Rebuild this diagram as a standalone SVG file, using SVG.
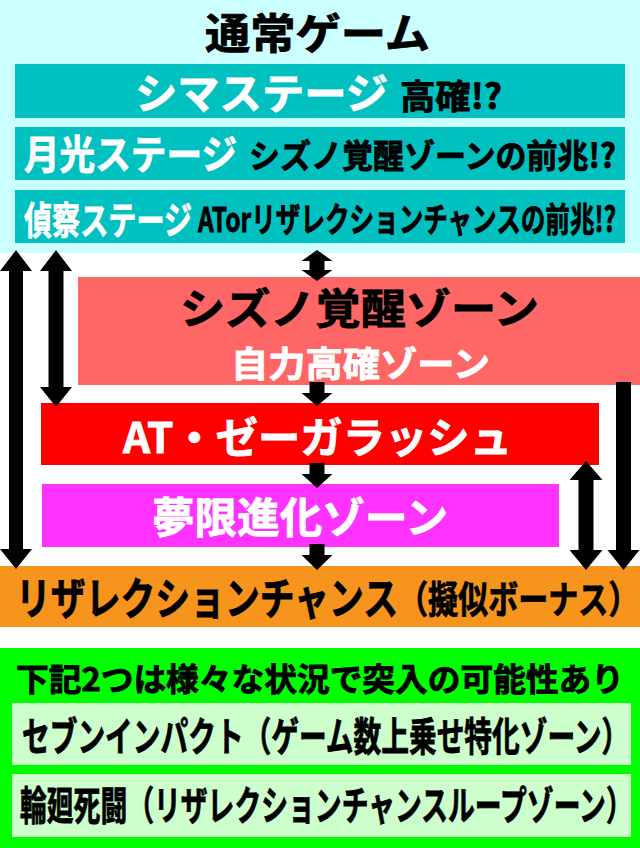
<svg xmlns="http://www.w3.org/2000/svg" width="640" height="848" viewBox="0 0 640 848">
<style>
text{font-family:"Noto Sans CJK JP","Noto Sans CJK SC",sans-serif;font-weight:bold;dominant-baseline:central;}
.w{fill:#fff;stroke:#fff;stroke-width:0.8;}
.k{fill:#000;stroke:#000;stroke-width:0.8;}
.arr{fill:#000;}
</style>
<rect x="0" y="0" width="640" height="848" fill="#fff"/>
<g id="normal-game">
<rect x="0" y="0" width="640" height="253" fill="#ccffff"/>
<text class="k" x="205" y="30" font-size="42" textLength="225" lengthAdjust="spacingAndGlyphs">通常ゲーム</text>
</g>
<g id="shima-stage">
<rect x="15" y="64" width="610" height="54" fill="#00c0c0"/>
<text class="w" x="135" y="90" font-size="42" textLength="253" lengthAdjust="spacingAndGlyphs">シマステージ</text>
<text class="k" x="400" y="94" font-size="34" textLength="102" lengthAdjust="spacingAndGlyphs">高確!?</text>
</g>
<g id="gekko-stage">
<rect x="15" y="127" width="610" height="53" fill="#00c0c0"/>
<text class="w" transform="translate(24,152) scale(0.8875,1)" font-size="40" textLength="240" lengthAdjust="spacingAndGlyphs">月光ステージ</text>
<text class="k" x="249" y="154" font-size="33" textLength="367" lengthAdjust="spacingAndGlyphs">シズノ覚醒ゾーンの前兆!?</text>
</g>
<g id="teisatsu-stage">
<rect x="15" y="190" width="610" height="53" fill="#00c0c0"/>
<text class="w" transform="translate(24,217) scale(0.737,1)" font-size="38" textLength="228" lengthAdjust="spacingAndGlyphs">偵察ステージ</text>
<text class="k" transform="translate(198,218) scale(0.726,1)" font-size="34" textLength="576" lengthAdjust="spacingAndGlyphs">ATorリザレクションチャンスの前兆!?</text>
</g>
<g id="shizuno-zone">
<rect x="78" y="277" width="562" height="108" fill="#ff6666"/>
<text class="k" x="180" y="305" font-size="42" textLength="359" lengthAdjust="spacingAndGlyphs">シズノ覚醒ゾーン</text>
<text class="w" x="231" y="361" font-size="35" textLength="259" lengthAdjust="spacingAndGlyphs">自力高確ゾーン</text>
</g>
<g id="at-zeega">
<rect x="41" y="403" width="558" height="62" fill="#ff0000"/>
<text class="w" x="123" y="434" font-size="42" textLength="389" lengthAdjust="spacingAndGlyphs">AT・ゼーガラッシュ</text>
</g>
<g id="mugen-zone">
<rect x="42" y="484" width="517" height="63" fill="#ff33ff"/>
<text class="w" x="152" y="514" font-size="42" textLength="296" lengthAdjust="spacingAndGlyphs">夢限進化ゾーン</text>
</g>
<g id="resurrection-chance">
<rect x="0" y="566" width="640" height="61" fill="#f7941d"/>
<text class="k" transform="translate(16,596) scale(0.79,1)" font-size="44" textLength="788" lengthAdjust="spacingAndGlyphs">リザレクションチャンス<tspan font-size="38">（擬似ボーナス）</tspan></text>
</g>
<g id="special">
<rect x="0" y="648" width="640" height="200" fill="#00ff00"/>
<text class="k" x="16" y="677" font-size="32" textLength="608" lengthAdjust="spacingAndGlyphs">下記2つは様々な状況で突入の可能性あり</text>
</g>
<g id="seven-impact">
<rect x="12" y="703" width="619" height="62" fill="#ccffcc"/>
<text class="k" transform="translate(22,734) scale(0.69,1)" font-size="40" textLength="880" lengthAdjust="spacingAndGlyphs">セブンインパクト（ゲーム数上乗せ特化ゾーン）</text>
</g>
<g id="rinne-shitou">
<rect x="12" y="774" width="619" height="63" fill="#ccffcc"/>
<text class="k" transform="translate(20,803) scale(0.666,1)" font-size="40" textLength="920" lengthAdjust="spacingAndGlyphs">輪廻死闘（リザレクションチャンスループゾーン）</text>
</g>
<g id="connectors">
<polygon class="arr" points="16,250 32,271 23,271 23,549 32,549 16,569 0,549 9,549 9,271 0,271"/>
<polygon class="arr" points="56,250 72,271 63.5,271 63.5,387 72,387 56,407 40,387 48.5,387 48.5,271 40,271"/>
<polygon class="arr" points="317,250 332.5,261 324.5,261 324.5,270 332.5,270 317,281 301.5,270 309.5,270 309.5,261 301.5,261"/>
<polygon class="arr" points="309.5,382 324.5,382 324.5,393 332.5,393 317,406 301.5,393 309.5,393"/>
<polygon class="arr" points="309.5,463 324.5,463 324.5,474 332.5,474 317,488 301.5,474 309.5,474"/>
<polygon class="arr" points="309.5,544 324.5,544 324.5,555 332.5,555 317,570 301.5,555 309.5,555"/>
<polygon class="arr" points="586,461 602.5,480 593.5,480 593.5,550 602.5,550 586,570 569.5,550 578.5,550 578.5,480 569.5,480"/>
<polygon class="arr" points="616,382 631,382 631,550 639.5,550 623.5,570 607.5,550 616,550"/>
</g>
</svg>
